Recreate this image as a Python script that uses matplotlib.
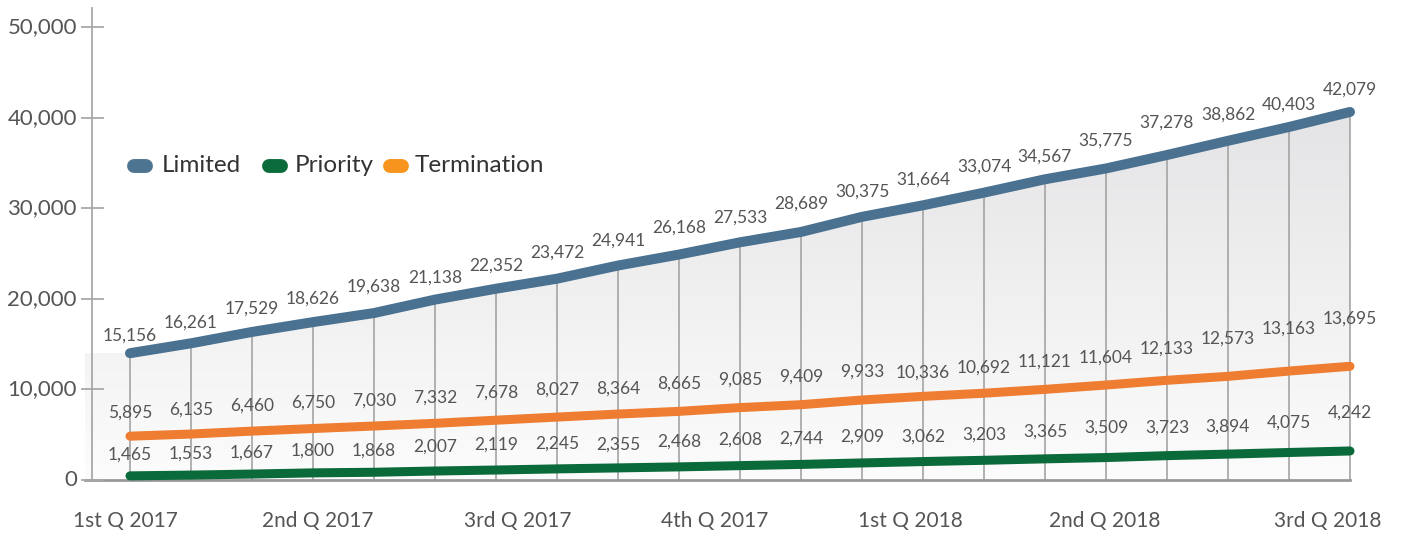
import numpy as np
import matplotlib
matplotlib.use('Agg')
import matplotlib.pyplot as plt
from matplotlib.colors import LinearSegmentedColormap
from matplotlib.patches import Polygon
from matplotlib.lines import Line2D

plt.rcParams['font.family'] = ['Lato', 'DejaVu Sans']

limited = [15156, 16261, 17529, 18626, 19638, 21138, 22352, 23472, 24941, 26168, 27533,
           28689, 30375, 31664, 33074, 34567, 35775, 37278, 38862, 40403, 42079]
priority = [1465, 1553, 1667, 1800, 1868, 2007, 2119, 2245, 2355, 2468, 2608,
            2744, 2909, 3062, 3203, 3365, 3509, 3723, 3894, 4075, 4242]
termination = [5895, 6135, 6460, 6750, 7030, 7332, 7678, 8027, 8364, 8665, 9085,
               9409, 9933, 10336, 10692, 11121, 11604, 12133, 12573, 13163, 13695]
quarters = ['1st Q 2017', '2nd Q 2017', '3rd Q 2017', '4th Q 2017',
            '1st Q 2018', '2nd Q 2018', '3rd Q 2018']
yticks = [0, 10000, 20000, 30000, 40000, 50000]

# label offsets above each point (pixels), as placed in the original slide
off_lim = [18, 21, 23, 23, 26, 22, 23, 26, 25, 27, 25, 28, 25, 26, 26, 23, 28, 32, 26, 22, 22]
off_ter = [24, 24, 25, 26, 25, 26, 28, 27, 25, 28, 28, 28, 28, 24, 26, 28, 27, 32, 38, 42, 48]
off_pri = [21, 21, 21, 22, 22, 24, 25, 25, 23, 25, 26, 26, 26, 25, 26, 27, 30, 28, 27, 30, 38]

W, H = 1403, 533
X0, DX = 130, 61          # pixel x of first point, spacing
Y0, SY = 489, 0.00896     # pixel y of value 0, pixels per unit


def xi(px):
    return (px - X0) / DX


def yv(py):
    return (Y0 - py) / SY


fig = plt.figure(figsize=(W / 100, H / 100), dpi=100)
ax = fig.add_axes([0, 0, 1, 1])
ax.axis('off')

n = len(limited)
x = np.arange(n)
base = yv(480)
txtc = '#555555'

# gradient under the Limited line
xl = xi(85)
verts = [(xl, base), (xl, limited[0])] + list(zip(x, limited)) + [(x[-1], base)]
poly = Polygon(verts, closed=True, facecolor='none', edgecolor='none')
ax.add_patch(poly)
cmap = LinearSegmentedColormap.from_list('g', ['#fcfcfc', '#e4e4e6'])
grad = np.linspace(0, 1, 256).reshape(-1, 1)
im = ax.imshow(grad, extent=[xl, x[-1], base, max(limited)], origin='lower',
               aspect='auto', cmap=cmap, zorder=1)
im.set_clip_path(poly)

# vertical grid lines at each point
ax.vlines(x, base, limited, color='#a4a4a4', lw=1.2, zorder=2)

# axes lines
ax.plot([xi(92), xi(92)], [base, yv(8)], color='#a8a8a8', lw=1.3, zorder=2)
ax.plot([xi(85), x[-1]], [base, base], color='#999999', lw=2, zorder=2)
for k, t in enumerate(yticks):
    ty = yv(480 - 90.6 * k)
    ax.plot([xi(82), xi(103)], [ty, ty], color='#a8a8a8', lw=1.3, zorder=2)
    ax.text(xi(77), ty, f'{t:,}', ha='right', va='center', fontsize=16, color=txtc)

# series
series = [(limited, '#4a7190', 7.2, off_lim),
          (termination, '#ee7d31', 6.5, off_ter),
          (priority, '#0b6a3a', 6.5, off_pri)]
for vals, col, lw, offs in series:
    ax.plot(x, vals, color=col, lw=lw, solid_capstyle='round', solid_joinstyle='round', zorder=3)
    for i, v in enumerate(vals):
        ax.annotate(f'{v:,}', (x[i], v), xytext=(0, offs[i]), textcoords='offset pixels',
                    ha='center', va='center', fontsize=12.5, color=txtc, zorder=4)

# x labels
xlab_px = [125, 318, 518, 715, 910, 1105, 1328]
for px, lab in zip(xlab_px, quarters):
    ax.text(xi(px), yv(521), lab, ha='center', va='center', fontsize=15, color=txtc)

ax.set_xlim(xi(0), xi(W))
ax.set_ylim(yv(H), yv(0))

# legend
leg = [('Limited', '#4d7491', 127, 162), ('Priority', '#0c6b3a', 262, 295),
       ('Termination', '#f7941d', 383, 415)]
for lab, col, px, tx in leg:
    fig.add_artist(Line2D([(px + 7) / W, (px + 19) / W], [1 - 166 / H, 1 - 166 / H],
                          color=col, lw=10, solid_capstyle='round'))
    fig.text(tx / W, 1 - 166 / H, lab, ha='left', va='center', fontsize=17.5, color='#333333')

fig.savefig('out.png', dpi=100)
